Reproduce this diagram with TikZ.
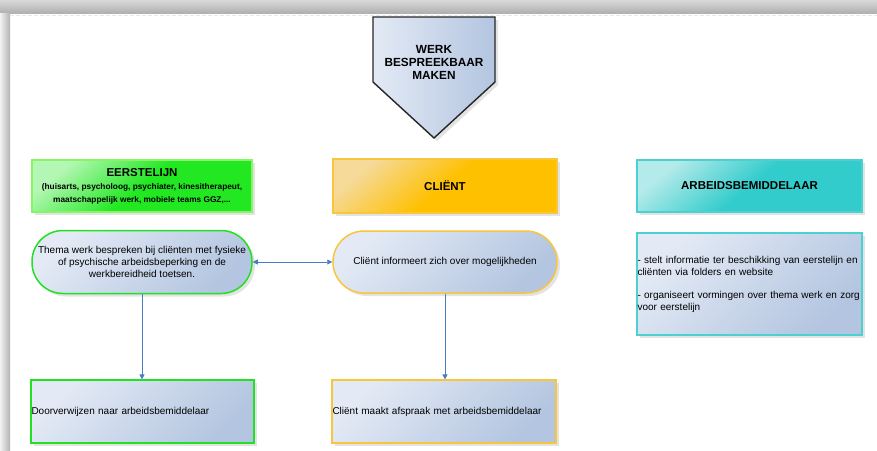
\documentclass[tikz,border=0pt]{standalone}
\usepackage{fontspec}
\setmainfont{Liberation Sans}
\usetikzlibrary{arrows.meta,shadows}

\definecolor{paleA}{HTML}{E3EAF5}
\definecolor{paleB}{HTML}{B3C5E0}
\definecolor{grnL}{HTML}{B4F7B4}
\definecolor{grnF}{HTML}{22E822}
\definecolor{grnEdge}{HTML}{88F566}
\definecolor{grnLine}{HTML}{22E022}
\definecolor{orgL}{HTML}{F5DA9A}
\definecolor{orgF}{HTML}{FFC000}
\definecolor{orgEdge}{HTML}{F7C63C}
\definecolor{tealL}{HTML}{B4EAEA}
\definecolor{tealF}{HTML}{33CCCC}
\definecolor{tealEdge}{HTML}{4CD0D0}
\definecolor{linkblue}{HTML}{4A7CC6}

\tikzset{
  shadowed/.style={drop shadow={shadow xshift=3pt, shadow yshift=-3pt, opacity=0.22, fill=gray}},
  pale/.style={top color=paleA, bottom color=paleB, shading angle=45},
  hdrbox/.style={shadowed, line width=1.2pt, align=center, inner sep=2pt,
    font=\bfseries\fontsize{11.5}{13}\selectfont},
  greenhdr/.style={hdrbox, draw=grnEdge, top color=grnL, bottom color=grnF, middle color=grnF, shading angle=40},
  orangehdr/.style={hdrbox, draw=orgEdge, top color=orgL, bottom color=orgF, middle color=orgF, shading angle=40},
  tealhdr/.style={hdrbox, draw=tealEdge, top color=tealL, bottom color=tealF, middle color=tealF, shading angle=40},
  bodybox/.style={shadowed, pale, line width=1.2pt, font=\fontsize{10}{12}\selectfont},
  pill/.style={bodybox, line width=1.5pt, rounded corners=31pt, align=center, inner sep=2pt},
  plainbox/.style={bodybox, align=left, inner xsep=0.5pt},
  link/.style={draw=linkblue, line width=0.8pt, -{Triangle[width=5pt,length=5pt]}},
  twoway/.style={draw=linkblue, line width=0.8pt, {Triangle[width=5pt,length=5pt]}-{Triangle[width=5pt,length=5pt]}}
}

\begin{document}
\begin{tikzpicture}[x=1pt, y=-1pt]
  \useasboundingbox (0,0) rectangle (877,450);
  % sheet and its shadowed edges
  \fill[white] (0,0) rectangle (877,450);
  \shade[top color=gray!30, bottom color=gray!62] (0,0) rectangle (877,13);
  \shade[left color=gray!10, right color=gray!60] (0,13) rectangle (10,450);
  \draw[gray!18, line width=1.5pt, dash pattern=on 4pt off 2pt] (10,15.5) -- (877,15.5);

  % title pentagon
  \draw[shadowed, line width=1.4pt, draw=black!85, left color=paleA, right color=paleB]
    (373,17) -- (495,17) -- (495,82) -- (434,138) -- (373,82) -- cycle;
  \node[align=center, font=\bfseries\fontsize{11.8}{13}\selectfont] (werk) at (434,62)
    {WERK\\BESPREEKBAAR\\MAKEN};

  % column headers
  \node[greenhdr, minimum width=220pt, minimum height=52pt] (eerst) at (142,186)
    {EERSTELIJN\\{\fontsize{8.3}{11}\selectfont (huisarts, psycholoog, psychiater, kinesitherapeut,}\\
     {\fontsize{8.3}{11}\selectfont maatschappelijk werk, mobiele teams GGZ,...}};
  \node[orangehdr, minimum width=224pt, minimum height=54pt] (client) at (445,186) {CLIËNT};
  \node[tealhdr, minimum width=225pt, minimum height=52pt] (arbeid) at (749.5,186) {ARBEIDSBEMIDDELAAR};

  % rounded steps
  \node[pill, draw=grnLine, minimum width=220pt, minimum height=63pt] (thema) at (142,262)
    {Thema werk bespreken bij cliënten met fysieke\\of psychische arbeidsbeperking en de\\werkbereidheid toetsen.};
  \node[pill, draw=orgEdge, minimum width=224pt, minimum height=62pt] (info) at (445,262)
    {Cliënt informeert zich over mogelijkheden};

  % information box
  \node[plainbox, draw=tealEdge, text width=224pt, minimum height=102pt] (taken) at (749.5,284)
    {- stelt informatie ter beschikking van eerstelijn en\\cliënten via folders en website\\[11pt]
     - organiseert vormingen over thema werk en zorg\\voor eerstelijn};

  % final steps
  \node[plainbox, draw=grnLine, text width=222pt, minimum height=63pt] (door) at (142.5,411.5)
    {Doorverwijzen naar arbeidsbemiddelaar};
  \node[plainbox, draw=orgEdge, text width=223pt, minimum height=63pt] (afspraak) at (444,411.5)
    {Cliënt maakt afspraak met arbeidsbemiddelaar};

  % connectors
  \draw[twoway] (thema.east) -- (thema.east -| info.west);
  \draw[link] (thema.south) -- (door.north -| thema.south);
  \draw[link] (info.south) -- (afspraak.north -| info.south);
\end{tikzpicture}
\end{document}
